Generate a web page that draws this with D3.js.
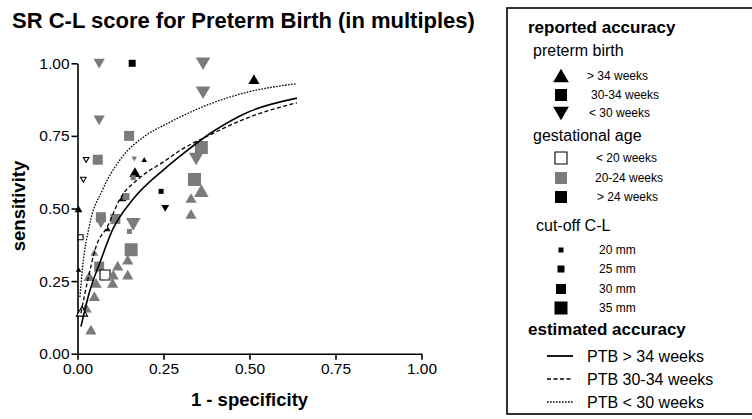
<!DOCTYPE html>
<html>
<head>
<meta charset="utf-8">
<script src="https://cdn.jsdelivr.net/npm/d3@7"></script>
<style>
  body { margin: 0; background: #fff; }
  text { font-family: "Liberation Sans", Arial, sans-serif; fill: #000; }
</style>
</head>
<body>
<div class="chart"></div>
<script>
/* Data
============================================= */
// reported accuracy: one entry per study
const fpr    = [0.063, 0.159, 0.365, 0.365, 0.513, 0.063, 0.150, 0.025, 0.059, 0.165,
                0.194, 0.167, 0.162, 0.017, 0.360, 0.345, 0.340, 0.360, 0.330, 0.330,
                0.243, 0.131, 0.141, 0.255, 0.003, 0.068, 0.068, 0.110, 0.162, 0.088,
                0.151, 0.009, 0.156, 0.049, 0.146, 0.003, 0.063, 0.117, 0.080, 0.146,
                0.104, 0.102, 0.054, 0.034, 0.049, 0.025, 0.013, 0.039];
const sens   = [1.000, 1.000, 1.000, 0.900, 0.944, 0.805, 0.750, 0.668, 0.668, 0.671,
                0.668, 0.624, 0.606, 0.600, 0.710, 0.672, 0.600, 0.560, 0.535, 0.480,
                0.559, 0.536, 0.541, 0.501, 0.498, 0.470, 0.450, 0.464, 0.447, 0.429,
                0.421, 0.401, 0.358, 0.348, 0.323, 0.290, 0.300, 0.302, 0.271, 0.271,
                0.271, 0.243, 0.243, 0.266, 0.197, 0.157, 0.145, 0.082];
// preterm birth definition: ">34", "30-34", "<30"
const ptb    = ["<30", "30-34", "<30", "<30", ">34", "<30", "30-34", "<30", "30-34", "<30",
                ">34", ">34", "30-34", "<30", "30-34", "<30", "30-34", ">34", ">34", ">34",
                "30-34", ">34", "30-34", "<30", ">34", "30-34", "<30", "30-34", "<30", ">34",
                "30-34", "30-34", "30-34", ">34", ">34", ">34", "30-34", ">34", "30-34", ">34",
                ">34", ">34", ">34", ">34", ">34", ">34", ">34", ">34"];
// gestational age at measurement: "<20", "20-24", ">24"
const gestAge = [
                "20-24", ">24", "20-24", "20-24", ">24", "20-24", "20-24", "<20", "20-24", "20-24",
                ">24", ">24", "20-24", "<20", "20-24", "20-24", "20-24", "20-24", "20-24", "20-24",
                ">24", ">24", "20-24", ">24", ">24", "20-24", "20-24", "20-24", "20-24", ">24",
                "20-24", "<20", "20-24", "20-24", "20-24", ">24", "20-24", "20-24", "<20", "20-24",
                "20-24", "20-24", "20-24", "20-24", "20-24", "20-24", "<20", "20-24"];
// cut-off cervical length (mm)
const cutoff = [30, 25, 35, 35, 30, 30, 30, 20, 30, 20,
                20, 30, 20, 20, 35, 35, 35, 35, 30, 30,
                20, 25, 25, 25, 25, 30, 30, 30, 35, 20,
                20, 20, 35, 25, 30, 20, 30, 30, 30, 30,
                30, 30, 30, 30, 30, 30, 30, 30];

// estimated accuracy curves
const curveGt34   = [[0.010, 0.093], [0.034, 0.209], [0.068, 0.323], [0.102, 0.427], [0.160, 0.530],
                     [0.257, 0.640], [0.298, 0.680], [0.394, 0.765], [0.492, 0.830], [0.638, 0.880]];
const curve30to34 = [[0.010, 0.140], [0.030, 0.254], [0.054, 0.369], [0.088, 0.440], [0.122, 0.530],
                     [0.180, 0.605], [0.252, 0.662], [0.298, 0.700], [0.376, 0.748], [0.500, 0.815],
                     [0.638, 0.864]];
const curveLt30   = [[0.007, 0.195], [0.015, 0.300], [0.034, 0.438], [0.073, 0.565], [0.122, 0.665],
                     [0.199, 0.752], [0.260, 0.792], [0.298, 0.815], [0.394, 0.864], [0.492, 0.900],
                     [0.638, 0.930]];

const xTicks = [0, 0.25, 0.5, 0.75, 1];
const yTicks = [0, 0.25, 0.5, 0.75, 1];

const ptbKeys   = [">34", "30-34", "<30"];
const ptbLabels = ["> 34 weeks", "30-34 weeks", "< 30 weeks"];
const gaKeys    = ["<20", "20-24", ">24"];
const gaLabels  = ["< 20 weeks", "20-24 weeks", "> 24 weeks"];
const cutKeys   = [20, 25, 30, 35];
const cutLabels = ["20 mm", "25 mm", "30 mm", "35 mm"];
const lineLabels = ["PTB > 34 weeks", "PTB 30-34 weeks", "PTB < 30 weeks"];

/* Global Constants
============================================= */
const SVG_WIDTH = 752;
const SVG_HEIGHT = 419;
const GRAY = "#7b7b7b";

var margin = { top: 63.3, left: 77.5 };
var width = 344;
var height = 290.4;

var shapeOf = { ">34": "up", "30-34": "square", "<30": "down" };
var fillOf = { "<20": "#fff", "20-24": GRAY, ">24": "#000" };
var sizeOf = d3.scaleOrdinal().domain(cutKeys).range([5, 7, 10, 13]);
var dashOf = ["none", "4,2.5", "1.6,1.4"];

var svg = d3.select(".chart")
    .append("svg")
    .attr("width", SVG_WIDTH)
    .attr("height", SVG_HEIGHT);

//****************** title *****************************//
svg.append("text")
    .attr("x", 12)
    .attr("y", 28)
    .attr("font-size", "22px")
    .attr("font-weight", "bold")
    .text("SR C-L score for Preterm Birth (in multiples)");

var chart = svg.append("g")
    .attr("transform", `translate(${margin.left}, ${margin.top})`);

var xLinearScale = d3.scaleLinear().domain([0, 1]).range([0, width]);
var yLinearScale = d3.scaleLinear().domain([0, 1]).range([height, 0]);

//****************** axes *****************************//
var xAxis = chart.append("g")
    .attr("transform", `translate(0, ${height})`)
    .call(d3.axisBottom(xLinearScale).tickValues(xTicks).tickFormat(d3.format(".2f"))
        .tickSize(6).tickSizeOuter(0).tickPadding(3));

var yAxis = chart.append("g")
    .call(d3.axisLeft(yLinearScale).tickValues(yTicks).tickFormat(d3.format(".2f"))
        .tickSize(6).tickSizeOuter(0).tickPadding(2));

chart.selectAll(".domain, .tick line")
    .attr("stroke", "#000")
    .attr("stroke-width", 1.6);
chart.selectAll(".tick text")
    .attr("font-size", "15.5px")
    .attr("fill", "#000");

svg.append("text")
    .attr("x", margin.left + width / 2)
    .attr("y", 406)
    .attr("text-anchor", "middle")
    .attr("font-size", "18.5px")
    .attr("font-weight", "bold")
    .text("1 - specificity");

svg.append("text")
    .attr("transform", "rotate(-90)")
    .attr("x", -206)
    .attr("y", 25)
    .attr("text-anchor", "middle")
    .attr("font-size", "18.5px")
    .attr("font-weight", "bold")
    .text("sensitivity");

/*
 * path string for a marker shape of size s, centred on 0,0
 */
function markerPath(shape, s) {
    var w = s * 0.56;
    if (shape === "square") {
        var h = s / 2;
        return `M${-h},${-h}H${h}V${h}H${-h}Z`;
    }
    if (shape === "up") {
        return `M0,${-s * 0.52}L${w},${s * 0.45}L${-w},${s * 0.45}Z`;
    }
    return `M0,${s * 0.52}L${w},${-s * 0.45}L${-w},${-s * 0.45}Z`;
}

//****************** plot points *****************************//
var studies = fpr.map(function(d, i) {
    return { x: d, y: sens[i], ptb: ptb[i], ga: gestAge[i], cut: cutoff[i] };
});

chart.append("g")
    .selectAll("path")
    .data(studies)
    .enter()
    .append("path")
    .attr("transform", function(d) {
        return `translate(${xLinearScale(d.x)}, ${yLinearScale(d.y)})`;
    })
    .attr("d", function(d) {
        return markerPath(shapeOf[d.ptb], sizeOf(d.cut));
    })
    .attr("fill", function(d) { return fillOf[d.ga]; })
    .attr("stroke", function(d) { return d.ga === "<20" ? "#000" : "none"; })
    .attr("stroke-width", 1.1);

//****************** estimated curves *****************************//
var line = d3.line()
    .x(function(d) { return xLinearScale(d[0]); })
    .y(function(d) { return yLinearScale(d[1]); })
    .curve(d3.curveMonotoneX);

chart.append("g")
    .selectAll("path")
    .data([curveGt34, curve30to34, curveLt30])
    .enter()
    .append("path")
    .attr("d", line)
    .attr("fill", "none")
    .attr("stroke", "#000")
    .attr("stroke-width", function(d, i) { return i === 0 ? 1.6 : 1.3; })
    .attr("stroke-dasharray", function(d, i) { return dashOf[i]; });

//****************** legend *****************************//
var legend = svg.append("g");

legend.append("rect")
    .attr("x", 507)
    .attr("y", 8)
    .attr("width", 270)
    .attr("height", 406)
    .attr("fill", "none")
    .attr("stroke", "#000")
    .attr("stroke-width", 1.6);

function legendHeader(txt, x, y, bold) {
    legend.append("text")
        .attr("x", x)
        .attr("y", y)
        .attr("font-size", bold ? "17px" : "16px")
        .attr("font-weight", bold ? "bold" : "normal")
        .text(txt);
}

function legendItem(shape, s, fill, stroke, cy, label, lx) {
    legend.append("path")
        .attr("transform", `translate(561, ${cy})`)
        .attr("d", markerPath(shape, s))
        .attr("fill", fill)
        .attr("stroke", stroke)
        .attr("stroke-width", 1.1);
    legend.append("text")
        .attr("x", lx)
        .attr("y", cy + 4)
        .attr("font-size", "12px")
        .text(label);
}

legendHeader("reported accuracy", 528, 33, true);
legendHeader("preterm birth", 533, 56, false);
var ptbY = [76, 95, 113];
var ptbX = [587, 591, 589];
ptbKeys.forEach(function(k, i) {
    legendItem(shapeOf[k], shapeOf[k] === "square" ? 12 : 14, "#000", "none", ptbY[i], ptbLabels[i], ptbX[i]);
});

legendHeader("gestational age", 533, 141, false);
var gaY = [158, 178, 197];
var gaX = [596, 595, 597];
gaKeys.forEach(function(k, i) {
    legendItem("square", 12, fillOf[k], k === "<20" ? "#000" : "none", gaY[i], gaLabels[i], gaX[i]);
});

legendHeader("cut-off C-L", 536, 231, false);
var cutY = [250, 269, 289, 308];
cutKeys.forEach(function(k, i) {
    legendItem("square", sizeOf(k), "#000", "none", cutY[i], cutLabels[i], 599);
});

legendHeader("estimated accuracy", 528, 335, true);
var lineY = [356, 379, 402];
lineLabels.forEach(function(lbl, i) {
    legend.append("line")
        .attr("x1", 547)
        .attr("x2", 573)
        .attr("y1", lineY[i])
        .attr("y2", lineY[i])
        .attr("stroke", "#000")
        .attr("stroke-width", i === 0 ? 1.8 : 1.3)
        .attr("stroke-dasharray", dashOf[i]);
    legend.append("text")
        .attr("x", 587)
        .attr("y", lineY[i] + 6)
        .attr("font-size", "16px")
        .text(lbl);
});
</script>
</body>
</html>
